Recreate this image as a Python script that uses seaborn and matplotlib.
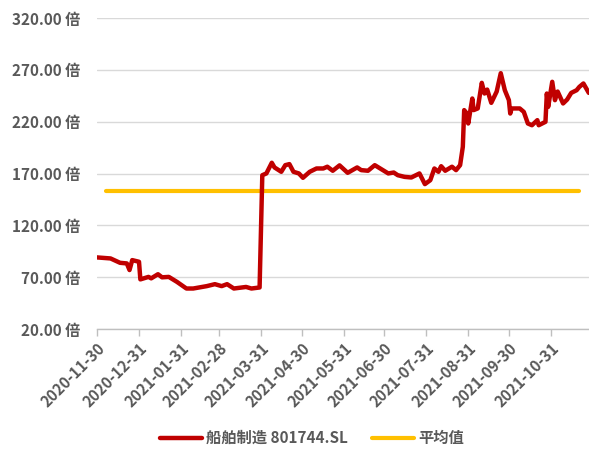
import matplotlib
matplotlib.use("Agg")
import matplotlib.pyplot as plt
import seaborn as sns
import pandas as pd

# ---- data ----
dates = [
    "2020-11-30", "2020-12-10", "2020-12-17", "2020-12-22", "2020-12-24", "2020-12-26",
    "2020-12-31", "2021-01-01", "2021-01-07", "2021-01-09", "2021-01-14", "2021-01-17",
    "2021-01-22", "2021-01-28", "2021-02-04", "2021-02-09", "2021-02-19", "2021-02-25",
    "2021-03-02", "2021-03-06", "2021-03-11", "2021-03-20", "2021-03-24", "2021-03-30",
    "2021-04-01", "2021-04-04", "2021-04-08", "2021-04-10", "2021-04-15", "2021-04-18",
    "2021-04-21", "2021-04-24", "2021-04-28", "2021-05-01", "2021-05-06", "2021-05-11",
    "2021-05-16", "2021-05-19", "2021-05-23", "2021-05-28", "2021-06-03", "2021-06-10",
    "2021-06-13", "2021-06-18", "2021-06-23", "2021-06-27", "2021-07-03", "2021-07-07",
    "2021-07-10", "2021-07-15", "2021-07-20", "2021-07-26", "2021-07-30", "2021-08-03",
    "2021-08-06", "2021-08-09", "2021-08-11", "2021-08-14", "2021-08-19", "2021-08-22",
    "2021-08-25", "2021-08-27", "2021-08-28", "2021-08-30", "2021-08-31", "2021-09-03",
    "2021-09-04", "2021-09-07", "2021-09-10", "2021-09-12", "2021-09-14", "2021-09-17",
    "2021-09-21", "2021-09-24", "2021-09-27", "2021-09-30", "2021-10-01", "2021-10-02",
    "2021-10-08", "2021-10-11", "2021-10-14", "2021-10-17", "2021-10-21", "2021-10-22",
    "2021-10-27", "2021-10-28", "2021-10-29", "2021-11-01", "2021-11-03", "2021-11-05",
    "2021-11-09", "2021-11-12", "2021-11-15", "2021-11-19", "2021-11-21", "2021-11-24",
    "2021-11-28",
]
pe_values = [
    89.2, 88.2, 84.0, 83.4, 77.0, 86.6,
    85.0, 68.0, 70.4, 69.0, 73.0, 70.0,
    70.4, 65.6, 59.2, 59.2, 61.5, 63.4,
    61.5, 63.4, 59.2, 60.7, 59.2, 60.2,
    168.5, 170.2, 180.5, 176.0, 171.8, 178.2,
    179.2, 171.8, 170.2, 166.0, 171.8, 175.0,
    175.0, 176.7, 172.8, 178.0, 170.8, 176.0,
    173.4, 172.8, 178.2, 175.0, 170.2, 171.1,
    168.5, 166.9, 166.3, 170.2, 159.9, 163.7,
    175.0, 171.8, 177.2, 172.8, 176.7, 173.4,
    178.2, 195.9, 231.3, 228.0, 218.4, 242.5,
    231.3, 232.9, 257.6, 247.3, 251.1, 238.3,
    249.2, 266.9, 250.5, 240.9, 228.0, 232.9,
    232.9, 229.6, 218.4, 216.7, 221.6, 216.7,
    220.0, 247.3, 234.4, 258.6, 240.9, 249.2,
    237.7, 241.5, 247.9, 250.5, 253.7, 257.0,
    247.9,
]
avg_dates = ["2020-12-07", "2021-11-21"]
avg_value = 153.0

tick_dates = ["2020-11-30", "2020-12-31", "2021-01-31", "2021-02-28", "2021-03-31",
              "2021-04-30", "2021-05-31", "2021-06-30", "2021-07-31", "2021-08-31",
              "2021-09-30", "2021-10-31"]
y_ticks = [20, 70, 120, 170, 220, 270, 320]

series_name = "船舶制造 801744.SL"
avg_name = "平均值"

# ---- plotting ----
sns.set_theme(style="white")
plt.rcParams['font.family'] = ['Noto Sans CJK SC', 'DejaVu Sans']

df = pd.DataFrame({"date": pd.to_datetime(dates), "value": pe_values})
df_avg = pd.DataFrame({"date": pd.to_datetime(avg_dates), "value": [avg_value] * len(avg_dates)})

fig = plt.figure(figsize=(5.89, 4.54), dpi=100)
ax = fig.add_axes([0.1647, 0.275, 0.835, 0.685])

grey = "#595959"
ax.set_ylim(20, 320)
ax.set_yticks(y_ticks)
ax.yaxis.grid(True, color="#D9D9D9", linewidth=1)
ax.set_axisbelow(True)

sns.lineplot(data=df, x="date", y="value", ax=ax, color="#C00000", linewidth=3.2,
             label=series_name, zorder=3)
sns.lineplot(data=df_avg, x="date", y="value", ax=ax, color="#FFC000", linewidth=3.0,
             label=avg_name, zorder=2)

ax.set_xlim(pd.Timestamp("2020-11-30"), pd.Timestamp("2021-11-28"))
ax.set_xticks(pd.to_datetime(tick_dates))
ax.set_xticklabels(tick_dates, rotation=45, ha="right", rotation_mode="anchor",
                   fontsize=11, fontweight="bold", color=grey)
ax.set_yticklabels([f"{v:.2f} 倍" for v in y_ticks], fontsize=11, fontweight="bold", color=grey)
ax.tick_params(axis="y", length=0, pad=12)
ax.tick_params(axis="x", length=5, width=1, color="#BFBFBF", direction="out", pad=3, bottom=True)

ax.set_xlabel("")
ax.set_ylabel("")
for s in ["top", "right", "left"]:
    ax.spines[s].set_visible(False)
ax.spines["bottom"].set_color("#BFBFBF")
ax.spines["bottom"].set_linewidth(1)

leg = ax.legend(loc="center", ncol=2, frameon=False,
                fontsize=11, handlelength=2.7, columnspacing=1.6, handletextpad=0.3)
leg.set_bbox_to_anchor((0.53, 0.035), transform=fig.transFigure)
for t in leg.get_texts():
    t.set_color(grey)
    t.set_fontweight("bold")

fig.savefig("out.png", dpi=100)
